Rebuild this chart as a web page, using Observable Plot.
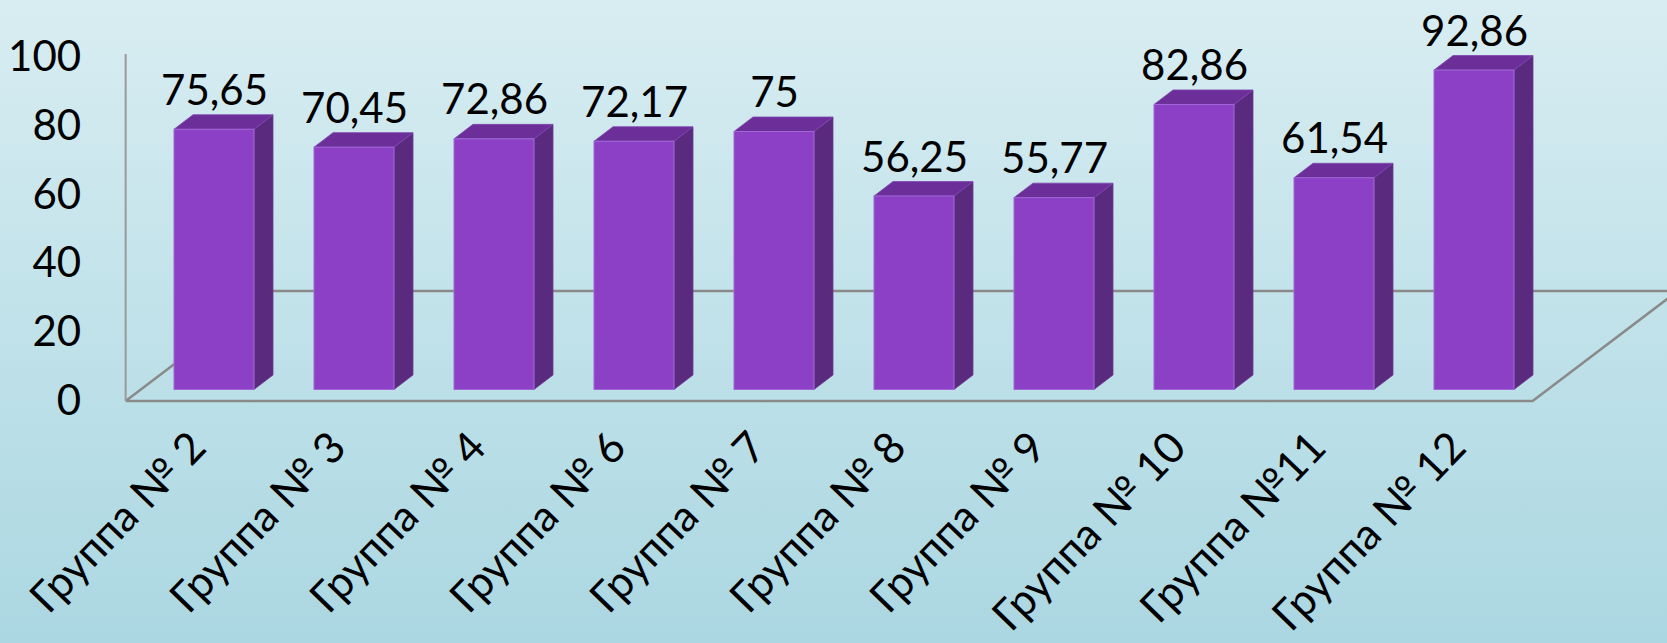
<!DOCTYPE html>
<html>
<head>
<meta charset="utf-8">
<script src="https://cdn.jsdelivr.net/npm/d3@7"></script>
<script src="https://cdn.jsdelivr.net/npm/@observablehq/plot@0.6"></script>
<style>
  html, body { margin: 0; padding: 0; }
  body { width: 1667px; height: 643px; overflow: hidden;
         background: linear-gradient(to bottom, #d8edf2 0%, #c3e3ea 45%, #abd7e2 100%); }
  #chart svg { display: block; }
</style>
</head>
<body>
<div id="chart"></div>
<script>
// ---- data ----
const groups = ["Группа № 2", "Группа № 3", "Группа № 4", "Группа № 6", "Группа № 7",
                "Группа № 8", "Группа № 9", "Группа № 10", "Группа №11", "Группа № 12"];
const values = [75.65, 70.45, 72.86, 72.17, 75, 56.25, 55.77, 82.86, 61.54, 92.86];
const valueLabels = ["75,65", "70,45", "72,86", "72,17", "75", "56,25", "55,77", "82,86", "61,54", "92,86"];
const yTicks = [0, 20, 40, 60, 80, 100];

const data = groups.map((g, i) => ({group: g, value: values[i], label: valueLabels[i]}));

// ---- styling constants ----
const FONT = "Lato, 'Open Sans', sans-serif";
const DX = 19, DY = -14.5;          // bar depth
const PX = -15, PY = 11.5;          // front plane offset relative to bars
const FDX = 145, FDY = -110;        // floor depth
const cFront = "#8b40c5", cTop = "#6c2f99", cSide = "#5a2a7f";

function bw(scale) {
  return typeof scale.bandwidth === "function" ? scale.bandwidth() : scale.bandwidth;
}

// floor + back wall line
const floor = Plot.ruleY([0], {
  render(index, scales, vals, dims) {
    const g = d3.create("svg:g");
    const xl = dims.marginLeft + PX, xr = dims.width - dims.marginRight + PX;
    const yf = scales.y(0) + PY;
    const pts = [[xl, yf], [xr, yf], [xr + FDX, yf + FDY], [xl + FDX, yf + FDY], [xl, yf]];
    g.append("path")
      .attr("d", d3.line()(pts))
      .attr("fill", "none")
      .attr("stroke", "#8a8a8a")
      .attr("stroke-width", 2.5)
      .attr("stroke-linejoin", "round");
    g.append("line")
      .attr("x1", xl).attr("x2", xl)
      .attr("y1", scales.y(100) + PY - 3).attr("y2", yf)
      .attr("stroke", "#9a9a9a").attr("stroke-width", 2);
    return g.node();
  }
});

// top and side faces of the 3D bars
const faces = Plot.barY(data, {
  x: "group", y: "value",
  render(index, scales, vals) {
    const g = d3.create("svg:g");
    const w = bw(scales.x);
    for (const i of index) {
      const x0 = vals.x[i], x1 = x0 + w;
      const yt = Math.min(vals.y1[i], vals.y2[i]);
      const yb = Math.max(vals.y1[i], vals.y2[i]);
      g.append("path")
        .attr("d", d3.line()([[x1, yt], [x1 + DX, yt + DY], [x1 + DX, yb + DY], [x1, yb]]) + "Z")
        .attr("fill", cSide).attr("stroke", "#6b3a92").attr("stroke-width", 0.8);
      g.append("path")
        .attr("d", d3.line()([[x0, yt], [x0 + DX, yt + DY], [x1 + DX, yt + DY], [x1, yt]]) + "Z")
        .attr("fill", cTop).attr("stroke", "#7d45b0").attr("stroke-width", 0.8);
    }
    return g.node();
  }
});

const chart = Plot.plot({
  width: 1667,
  height: 643,
  marginLeft: 140.65,
  marginRight: 119.35,
  marginTop: 45.5,
  marginBottom: 253.5,
  style: {background: "transparent", fontFamily: FONT, color: "#000", overflow: "visible"},
  x: {domain: groups, paddingInner: 0.43, paddingOuter: 0.215, label: null},
  y: {domain: [0, 100], label: null},
  marks: [
    floor,
    faces,
    Plot.barY(data, {x: "group", y: "value", fill: cFront, stroke: "#a068d6", strokeWidth: 1}),
    Plot.text(data, {x: "group", y: "value", text: "label", dy: -25, lineAnchor: "bottom",
                     fontSize: 42, fill: "#000"}),
    Plot.axisY({ticks: yTicks, tickSize: 0, tickPadding: 60, dy: PY, fontSize: 42,
                tickFormat: d => String(d), label: null}),
    Plot.axisX({tickSize: 0, tickRotate: -46, tickPadding: 50, dx: -16, fontSize: 43, label: null})
  ]
});
document.getElementById("chart").appendChild(chart);
</script>
</body>
</html>
